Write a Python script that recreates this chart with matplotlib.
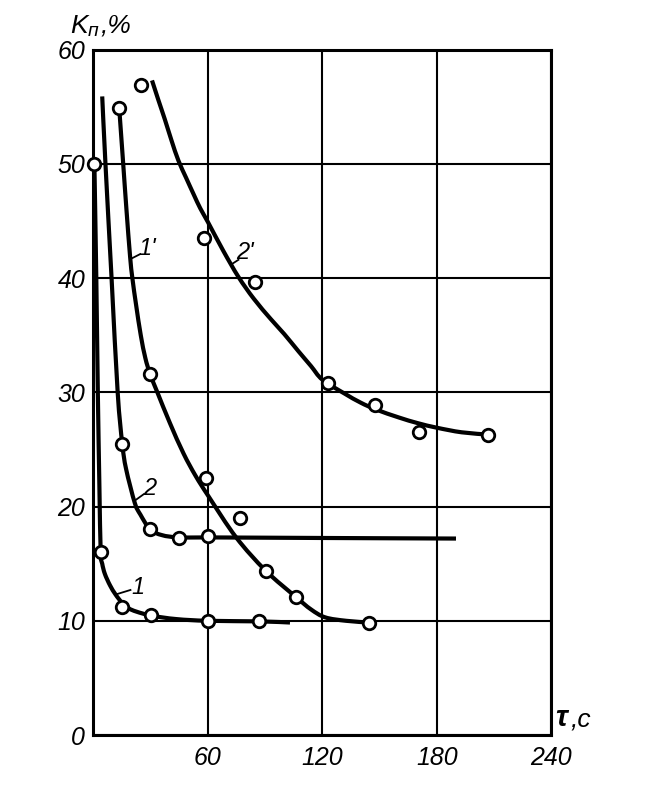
import matplotlib
matplotlib.use("Agg")
import matplotlib.pyplot as plt
from matplotlib.path import Path
from matplotlib.patches import PathPatch

plt.rcParams['font.family'] = ['Liberation Sans', 'DejaVu Sans']
plt.rcParams['font.style'] = 'italic'

# axis ticks
x_ticks = [0, 60, 120, 180, 240]
y_ticks = [0, 10, 20, 30, 40, 50, 60]
x_labels = ['', '60', '120', '180', '240']

# curves (tau, s / Kp, %)
c1_t = [0.5, 1.5, 2.3, 3.1, 3.8, 4.6, 6.0, 8.7, 11.6, 14.9, 18.4, 22.6, 30.4, 43.5, 60, 87, 103]
c1_k = [50, 40, 30, 22, 16, 15.0, 14.1, 13.1, 12.3, 11.6, 11.1, 10.8, 10.45, 10.15, 10.0, 9.95, 9.85]

c2_t = [4.6, 6.3, 9.5, 12.7, 15.1, 17.1, 21.7, 24.6, 29.7, 35.9, 44.6, 60, 120, 190]
c2_k = [55.9, 50, 40, 30, 25.5, 23.3, 20.3, 19.3, 18.0, 17.5, 17.3, 17.3, 17.25, 17.2]

c1p_t = [13.5, 15.6, 17.3, 19.2, 20.4, 22.4, 24.8, 27.2, 29.7, 33.5, 40.1, 47.2, 53.5, 60.3, 74.8,
         90.2, 106, 114, 121.5, 132.5, 144.4]
c1p_k = [54.9, 50, 46, 41.9, 40, 37.6, 35.0, 33.0, 31.6, 30.0, 27.3, 24.65, 22.7, 20.9, 17.3,
         14.4, 12.1, 11.0, 10.3, 10.0, 9.85]

c2p_t = [30.7, 34, 37.4, 41, 44.5, 48.5, 52.6, 56, 60, 68, 76, 84, 93, 100, 107.4, 114, 120,
         131.5, 140, 148, 160, 170, 180, 193, 207]
c2p_k = [57.3, 55.6, 53.9, 52.0, 50.3, 48.8, 47.3, 46.1, 44.9, 42.4, 40.1, 38.2, 36.4, 35.1, 33.6, 32.3, 31.1,
         29.9, 29.1, 28.5, 27.8, 27.3, 26.9, 26.5, 26.3]

# measured points
p1_t = [0.5, 3.8, 14.9, 30.4, 60, 87]
p1_k = [50, 16, 11.2, 10.5, 10.0, 10.0]

p2_t = [15.1, 29.7, 44.6, 60]
p2_k = [25.5, 18.0, 17.25, 17.4]

p1p_t = [13.5, 29.7, 59, 77, 90.2, 106, 144.4]
p1p_k = [54.9, 31.6, 22.5, 19.0, 14.4, 12.1, 9.85]

p2p_t = [24.9, 57.9, 84.6, 123, 147.8, 170.6, 207]
p2p_k = [56.9, 43.5, 39.7, 30.8, 28.9, 26.5, 26.3]


def smooth_line(ax, xs, ys, **kw):
    # cubic bezier through the traced points (catmull-rom)
    pts = list(zip(xs, ys))
    n = len(pts)
    verts = [pts[0]]
    codes = [Path.MOVETO]
    for i in range(n - 1):
        p0 = pts[max(i - 1, 0)]
        p1 = pts[i]
        p2 = pts[i + 1]
        p3 = pts[min(i + 2, n - 1)]
        c1 = (p1[0] + (p2[0] - p0[0]) / 6, p1[1] + (p2[1] - p0[1]) / 6)
        c2 = (p2[0] - (p3[0] - p1[0]) / 6, p2[1] - (p3[1] - p1[1]) / 6)
        verts += [c1, c2, p2]
        codes += [Path.CURVE4] * 3
    ax.add_patch(PathPatch(Path(verts, codes), fill=False, **kw))


fig = plt.figure(figsize=(6.58, 7.87), dpi=100)
ax = fig.add_axes([0.142, 0.066, 0.696, 0.871])

ax.set_xlim(0, 240)
ax.set_ylim(0, 60)
ax.set_xticks(x_ticks)
ax.set_yticks(y_ticks)
ax.set_xticklabels(x_labels)
ax.grid(True, color='black', lw=1.5)
ax.tick_params(length=0, labelsize=18)
ax.tick_params(axis='x', pad=8)
ax.tick_params(axis='y', pad=6)
for s in ax.spines.values():
    s.set_linewidth(2.2)

# curves
lw = 3.0
for xs, ys in [(c1_t, c1_k), (c2_t, c2_k), (c1p_t, c1p_k), (c2p_t, c2p_k)]:
    smooth_line(ax, xs, ys, edgecolor='black', lw=lw, zorder=3, capstyle='butt')

mk = dict(ls='none', marker='o', ms=9, mfc='white', mec='black', mew=2.0, zorder=4, clip_on=False)
ax.plot(p1_t, p1_k, **mk)
ax.plot(p2_t, p2_k, **mk)
ax.plot(p1p_t, p1p_k, **mk)
ax.plot(p2p_t, p2p_k, **mk)

# curve labels with short leaders
ax.plot([11.6, 19.4], [12.3, 12.7], color='black', lw=1.3, zorder=3)
ax.text(23.5, 12.9, '1', fontsize=17, ha='center', va='center')
ax.plot([21.5, 26.5], [20.5, 21.1], color='black', lw=1.3, zorder=3)
ax.text(29.5, 21.6, '2', fontsize=17, ha='center', va='center')
ax.plot([19.8, 24.5], [41.7, 42.1], color='black', lw=1.3, zorder=3)
ax.text(28.3, 42.6, "1'", fontsize=17, ha='center', va='center')
ax.plot([72.3, 76], [41.2, 41.6], color='black', lw=1.3, zorder=3)
ax.text(79.5, 42.2, "2'", fontsize=17, ha='center', va='center')

# axis captions
fig.text(70 / 658, 1 - 26 / 787, 'K', fontsize=19, ha='left', va='center')
fig.text(88 / 658, 1 - 31 / 787, 'п', fontsize=14, ha='left', va='center')
fig.text(101 / 658, 1 - 25 / 787, ',%', fontsize=19, ha='left', va='center')
fig.text(555 / 658, 1 - 718 / 787, 'τ', fontsize=21, ha='left', va='center', fontweight='bold')
fig.text(571 / 658, 1 - 720 / 787, ',c', fontsize=19, ha='left', va='center')

fig.savefig('out.png', dpi=100)
